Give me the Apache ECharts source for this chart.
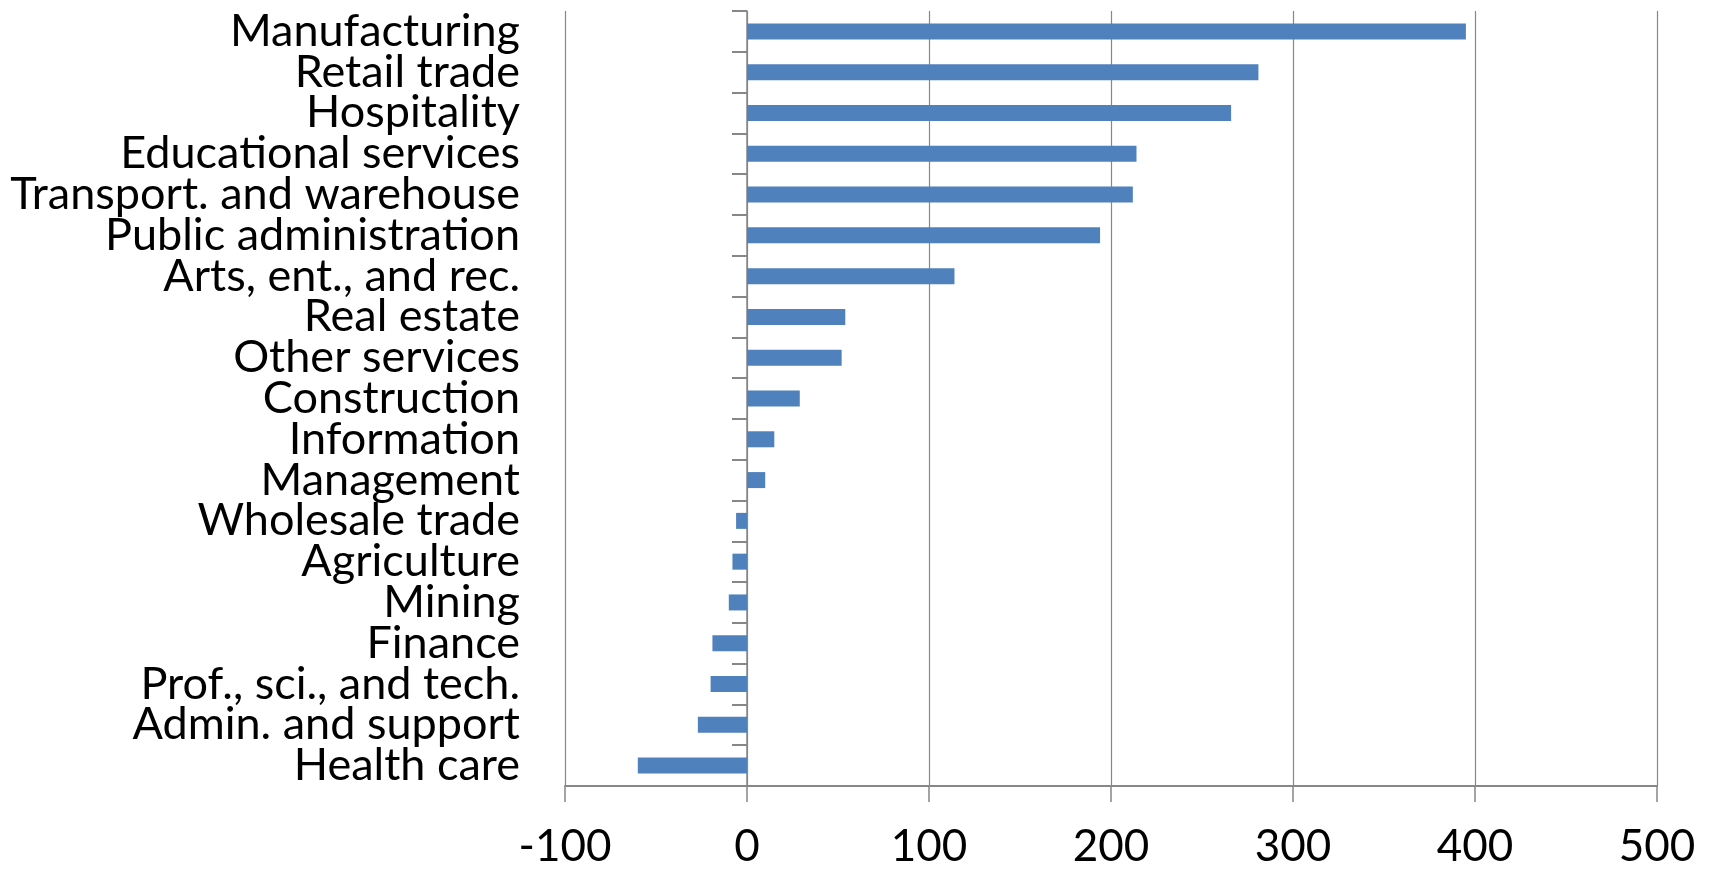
<!DOCTYPE html>
<html>
<head>
<meta charset="utf-8">
<script src="https://cdn.jsdelivr.net/npm/echarts@6/dist/echarts.min.js"></script>
<style>
html,body{margin:0;padding:0;background:#fff;}
#chart{width:1709px;height:869px;}
</style>
</head>
<body>
<div id="chart"></div>
<script>
const categories = ["Manufacturing","Retail trade","Hospitality","Educational services","Transport. and warehouse","Public administration","Arts, ent., and rec.","Real estate","Other services","Construction","Information","Management","Wholesale trade","Agriculture","Mining","Finance","Prof., sci., and tech.","Admin. and support","Health care"];
const values = [395, 281, 266, 214, 212, 194, 114, 54, 52, 29, 15, 10, -6, -8, -10, -19, -20, -27, -60];
const xTicks = [-100, 0, 100, 200, 300, 400, 500];

const chart = echarts.init(document.getElementById('chart'), null, {renderer: 'canvas'});
const font = 'Lato, "Open Sans", sans-serif';
const gray = '#878787';
chart.setOption({
  animation: false,
  backgroundColor: '#ffffff',
  grid: {left: 565, right: 52, top: 11, bottom: 80, containLabel: false},
  xAxis: {
    type: 'value',
    min: xTicks[0], max: xTicks[xTicks.length - 1], interval: 100,
    axisLine: {show: true, onZero: false, lineStyle: {color: gray, width: 2}},
    axisTick: {show: true, length: 16, lineStyle: {color: gray, width: 1.5}},
    splitLine: {show: true, lineStyle: {color: gray, width: 1.2}},
    axisLabel: {fontSize: 44, fontFamily: font, color: '#000', margin: 61, verticalAlign: 'middle'}
  },
  yAxis: [
    {
      type: 'category', data: categories, inverse: true, position: 'left',
      axisLine: {show: false, onZero: false},
      axisTick: {show: false},
      splitLine: {show: false},
      axisLabel: {fontSize: 45, fontFamily: font, color: '#000', margin: 45, interval: 0}
    },
    {
      type: 'category', data: categories, inverse: true, position: 'left',
      axisLine: {show: true, onZero: true, onZeroAxisIndex: 0, lineStyle: {color: gray, width: 1.5}},
      axisTick: {show: true, length: 15, interval: 0, lineStyle: {color: gray, width: 2}},
      splitLine: {show: false},
      axisLabel: {show: false}
    }
  ],
  series: [{
    type: 'bar', yAxisIndex: 0, data: values, barWidth: 16,
    itemStyle: {color: '#4F81BD'}
  }]
});
</script>
</body>
</html>
